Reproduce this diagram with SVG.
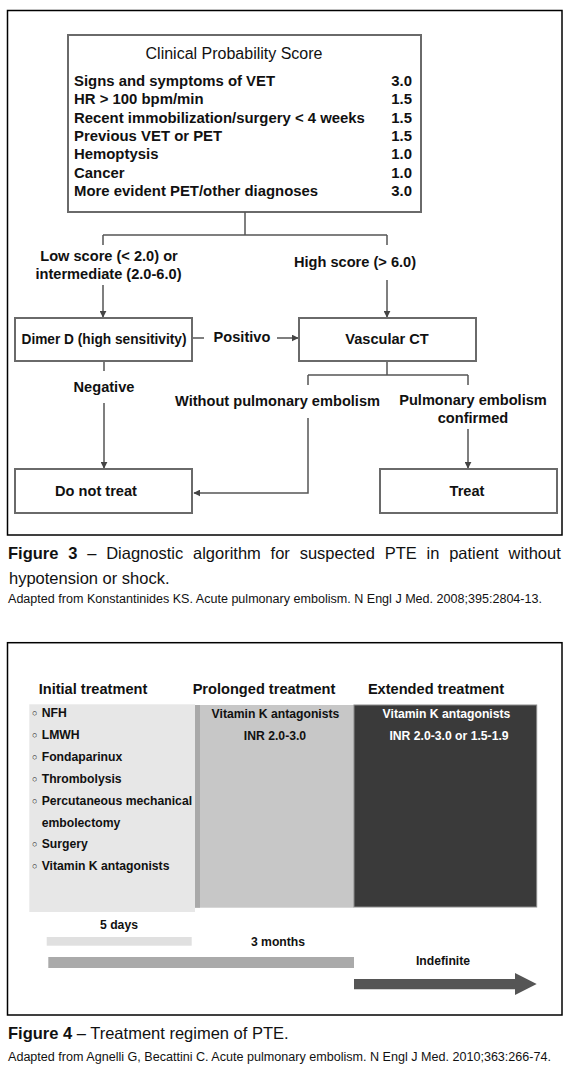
<svg xmlns="http://www.w3.org/2000/svg" width="575" height="1078" viewBox="0 0 575 1078">
<defs>
<style>
text{font-family:"Liberation Sans",Arial,sans-serif;fill:#111}
.b{font-weight:bold;font-size:14.6px}
.s{font-weight:bold;font-size:14.9px}
.m{text-anchor:middle}
.e{text-anchor:end}
.box{fill:#fff;stroke:#6a6a6a;stroke-width:2}
.frame{fill:none;stroke:#000;stroke-width:1.5}
.c{fill:none;stroke:#555;stroke-width:1.5}
.t{font-weight:bold;font-size:12.2px}
.cap{font-size:16.5px}
.src{font-size:12.5px}
</style>
<marker id="ah" viewBox="0 0 10 10" refX="9" refY="5" markerWidth="7" markerHeight="7" markerUnits="userSpaceOnUse" orient="auto">
<path d="M0,0 L10,5 L0,10 z" fill="#444"/>
</marker>
</defs>
<rect width="575" height="1078" fill="#fff"/>

<!-- Figure 3 -->
<rect class="frame" x="7.5" y="10.5" width="554.5" height="524.5"/>

<g id="score">
<rect class="box" x="68" y="35" width="353" height="177"/>
<text x="234" y="58.5" class="m" font-size="16">Clinical Probability Score</text>
<text class="s" x="74" y="86">Signs and symptoms of VET</text><text class="s e" x="412" y="86">3.0</text>
<text class="s" x="74" y="104.4">HR &gt; 100 bpm/min</text><text class="s e" x="412" y="104.4">1.5</text>
<text class="s" x="74" y="122.7">Recent immobilization/surgery &lt; 4 weeks</text><text class="s e" x="412" y="122.7">1.5</text>
<text class="s" x="74" y="141.1">Previous VET or PET</text><text class="s e" x="412" y="141.1">1.5</text>
<text class="s" x="74" y="159.4">Hemoptysis</text><text class="s e" x="412" y="159.4">1.0</text>
<text class="s" x="74" y="177.8">Cancer</text><text class="s e" x="412" y="177.8">1.0</text>
<text class="s" x="74" y="196.1">More evident PET/other diagnoses</text><text class="s e" x="412" y="196.1">3.0</text>
</g>

<g id="connectors">
<path class="c" d="M245,212 V235 M103,235 H387 M103,235 V245 M387,235 V245"/>
<path class="c" d="M103,285 V317" marker-end="url(#ah)"/>
<path class="c" d="M387,280 V317" marker-end="url(#ah)"/>
<path class="c" d="M192,338 H204"/>
<path class="c" d="M277,338 H298" marker-end="url(#ah)"/>
<path class="c" d="M104,361 V371"/>
<path class="c" d="M104,403 V468" marker-end="url(#ah)"/>
<path class="c" d="M387,361 V375 M308,375 H468 M308,375 V385 M468,375 V385"/>
<path class="c" d="M308,418 V493 H194" marker-end="url(#ah)"/>
<path class="c" d="M468,429 V468" marker-end="url(#ah)"/>
</g>

<g id="label-low">
<text class="b m" x="109" y="261">Low score (&lt; 2.0) or</text>
<text class="b m" x="108.5" y="279">intermediate (2.0-6.0)</text>
</g>
<g id="label-high"><text class="b m" x="355" y="267">High score (&gt; 6.0)</text></g>

<g id="dimer">
<rect class="box" x="15" y="318" width="177" height="43"/>
<text class="b m" x="104" y="344" textLength="165" lengthAdjust="spacingAndGlyphs">Dimer D (high sensitivity)</text>
</g>
<g id="label-positivo"><text class="b m" x="242" y="342">Positivo</text></g>
<g id="vascular">
<rect class="box" x="299" y="318" width="177" height="43"/>
<text class="b m" x="387" y="344">Vascular CT</text>
</g>
<g id="label-negative"><text class="b m" x="104" y="392">Negative</text></g>
<g id="label-without"><text class="b m" x="277.5" y="406">Without pulmonary embolism</text></g>
<g id="label-confirmed">
<text class="b m" x="473" y="404.5">Pulmonary embolism</text>
<text class="b m" x="473" y="423">confirmed</text>
</g>
<g id="donottreat">
<rect class="box" x="15" y="469" width="177" height="44"/>
<text class="b m" x="96" y="496">Do not treat</text>
</g>
<g id="treat">
<rect class="box" x="380" y="469" width="177" height="44"/>
<text class="b m" x="467" y="496">Treat</text>
</g>

<g id="caption3">
<text class="cap" x="8" y="558.5" word-spacing="5.2"><tspan font-weight="bold">Figure 3</tspan> – Diagnostic algorithm for suspected PTE in patient without</text>
<text class="cap" x="9" y="584">hypotension or shock.</text>
<text class="src" x="8" y="603" textLength="534" lengthAdjust="spacingAndGlyphs">Adapted from Konstantinides KS. Acute pulmonary embolism. N Engl J Med. 2008;395:2804-13.</text>
</g>

<!-- Figure 4 -->
<rect class="frame" x="7.5" y="642.7" width="554.5" height="372.3"/>

<g id="headers">
<text class="b m" x="93" y="694">Initial treatment</text>
<text class="b m" x="264" y="694">Prolonged treatment</text>
<text class="b m" x="436" y="694">Extended treatment</text>
</g>

<g id="initial">
<rect x="29.3" y="704.3" width="165.7" height="207.7" fill="#e7e7e7"/>
<g font-size="9">
<text x="32" y="716">○</text><text x="32" y="737.9">○</text><text x="32" y="759.8">○</text><text x="32" y="781.7">○</text><text x="32" y="803.6">○</text><text x="32" y="847.4">○</text><text x="32" y="869.3">○</text>
</g>
<text class="t" x="41.7" y="717">NFH</text>
<text class="t" x="41.7" y="738.9">LMWH</text>
<text class="t" x="41.7" y="760.8">Fondaparinux</text>
<text class="t" x="41.7" y="782.7">Thrombolysis</text>
<text class="t" x="41.7" y="804.6">Percutaneous mechanical</text>
<text class="t" x="41.7" y="826.5">embolectomy</text>
<text class="t" x="41.7" y="848.4">Surgery</text>
<text class="t" x="41.7" y="870.3">Vitamin K antagonists</text>
</g>

<g id="prolonged">
<rect x="195" y="705" width="159" height="202.7" fill="#c7c7c7"/>
<rect x="195" y="705" width="5" height="202.7" fill="#a9a9a9"/>
<text class="t m" x="275.5" y="718">Vitamin K antagonists</text>
<text class="t m" x="275" y="740">INR 2.0-3.0</text>
</g>

<g id="extended">
<rect x="354" y="705" width="182.7" height="202" fill="#3a3a3a" stroke="#8a8a8a" stroke-width="1"/>
<text class="t m" x="446.5" y="718" style="fill:#fff">Vitamin K antagonists</text>
<text class="t m" x="449" y="740" style="fill:#fff">INR 2.0-3.0 or 1.5-1.9</text>
</g>

<g id="durations">
<text class="t m" x="119" y="928.5">5 days</text>
<rect x="46.7" y="937" width="145" height="8.7" fill="#e0e0e0"/>
<text class="t m" x="278" y="945.5">3 months</text>
<rect x="48.3" y="957" width="305.7" height="11" fill="#aaaaaa"/>
<text class="t m" x="443" y="965">Indefinite</text>
<polygon points="354,979 515,979 515,973 536.7,984 515,995 515,989.3 354,989.3" fill="#555"/>
</g>

<g id="caption4">
<text class="cap" x="8" y="1038.5"><tspan font-weight="bold">Figure 4</tspan> – Treatment regimen of PTE.</text>
<text class="src" x="8" y="1061" textLength="543" lengthAdjust="spacingAndGlyphs">Adapted from Agnelli G, Becattini C. Acute pulmonary embolism. N Engl J Med. 2010;363:266-74.</text>
</g>
</svg>
